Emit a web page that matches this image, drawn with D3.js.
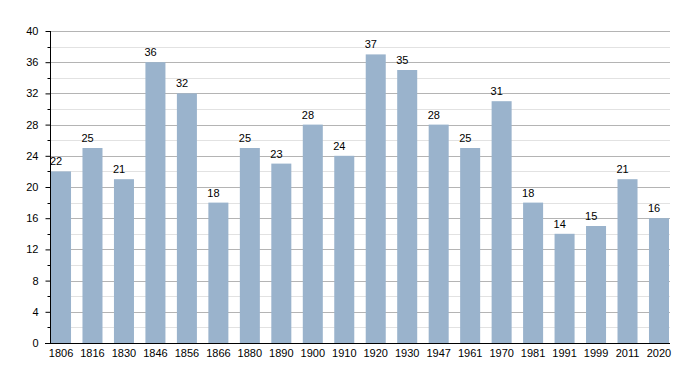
<!DOCTYPE html>
<html>
<head>
<meta charset="utf-8">
<script src="https://cdn.jsdelivr.net/npm/d3@7"></script>
<style>
  body { margin: 0; background: #fff; }
  text { font-family: "Liberation Sans", Arial, sans-serif; font-size: 11px; fill: #000; }
</style>
</head>
<body>
<div id="chart"></div>
<script>
var years = ["1806", "1816", "1830", "1846", "1856", "1866", "1880", "1890", "1900", "1910",
             "1920", "1930", "1947", "1961", "1970", "1981", "1991", "1999", "2011", "2020"];
var population = [22, 25, 21, 36, 32, 18, 25, 23, 28, 24, 37, 35, 28, 25, 31, 18, 14, 15, 21, 16];
var majorTicks = [0, 4, 8, 12, 16, 20, 24, 28, 32, 36, 40];
var minorTicks = [2, 6, 10, 14, 18, 22, 26, 30, 34, 38];

var svg = d3.select("#chart")
    .append("svg")
    .attr("width", 700)
    .attr("height", 373);

var x = d3.scaleBand()
    .domain(years)
    .range([50, 670])
    .paddingInner(0.364)
    .paddingOuter(0.032);

var y = d3.scaleLinear()
    .domain([0, 40])
    .range([343, 31]);

// grid lines
svg.selectAll(".minor-grid")
    .data(minorTicks)
    .enter().append("line")
    .attr("x1", 50).attr("x2", 670)
    .attr("y1", function(d) { return Math.round(y(d)) + 0.5; })
    .attr("y2", function(d) { return Math.round(y(d)) + 0.5; })
    .attr("stroke", "#e2e2e2");

svg.selectAll(".major-grid")
    .data(majorTicks.slice(1))
    .enter().append("line")
    .attr("x1", 50).attr("x2", 670)
    .attr("y1", function(d) { return Math.round(y(d)) + 0.5; })
    .attr("y2", function(d) { return Math.round(y(d)) + 0.5; })
    .attr("stroke", "#b4b4b4");

// bars
svg.selectAll(".bar")
    .data(population)
    .enter().append("rect")
    .attr("x", function(d, i) { return x(years[i]); })
    .attr("y", function(d) { return y(d); })
    .attr("width", x.bandwidth())
    .attr("height", function(d) { return y(0) - y(d); })
    .attr("fill", "#9ab3cc");

// value labels
svg.selectAll(".value-label")
    .data(population)
    .enter().append("text")
    .attr("x", function(d, i) { return x(years[i]) - 1; })
    .attr("y", function(d) { return y(d) - 6; })
    .text(function(d) { return d; });

// y axis
var yAxis = d3.axisLeft(y)
    .tickValues(majorTicks)
    .tickSize(5)
    .tickPadding(7);

var yg = svg.append("g")
    .attr("transform", "translate(50.5,0)")
    .call(yAxis);
yg.select(".domain").attr("d", "M0," + y(40) + "V" + y(0)).attr("stroke", "#000");
yg.selectAll("text").style("font-size", "11px").attr("fill", "#000");

yg.selectAll(".minor-tick")
    .data(minorTicks)
    .enter().append("line")
    .attr("x1", -3).attr("x2", 0)
    .attr("y1", function(d) { return Math.round(y(d)) + 0.5; })
    .attr("y2", function(d) { return Math.round(y(d)) + 0.5; })
    .attr("stroke", "#000");

// x axis
var xAxis = d3.axisBottom(x)
    .tickSize(0)
    .tickPadding(6);

var xg = svg.append("g")
    .attr("transform", "translate(0,343.5)")
    .call(xAxis);
xg.select(".domain").attr("d", "M45,0H670").attr("stroke", "#000");
xg.selectAll("text").style("font-size", "11px").attr("fill", "#000");
</script>
</body>
</html>
